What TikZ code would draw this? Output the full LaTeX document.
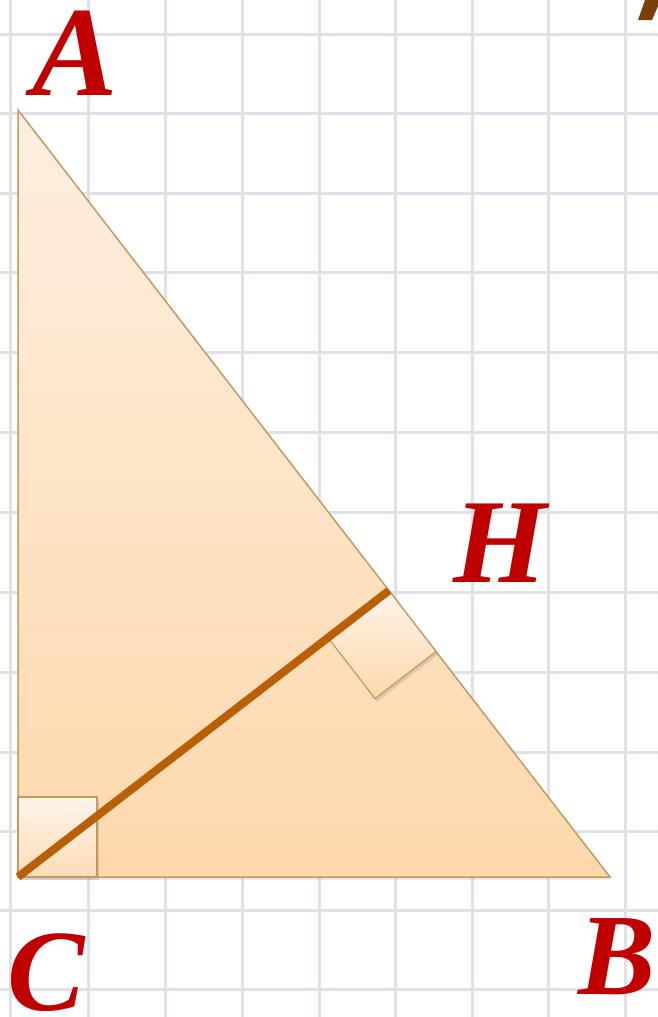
\documentclass[tikz,border=0pt]{standalone}
\usepackage{fontspec}
\setmainfont{Liberation Serif}
\usepackage{tikz}
\usetikzlibrary{calc,shadows}

\definecolor{gridline}{HTML}{E0E0EA}
\definecolor{tribord}{HTML}{C39A5E}
\definecolor{trilight}{HTML}{FEEFE1}
\definecolor{tridark}{HTML}{FDD8AB}
\definecolor{altcol}{HTML}{B95F08}
\definecolor{lettercol}{HTML}{C00000}
\definecolor{fragcol}{HTML}{7A400C}

\tikzset{
  vertex/.style={text=lettercol,inner sep=0pt,font=\bfseries\itshape},
  rightmark/.style={draw=tribord,line width=1.2pt,drop shadow={shadow xshift=2pt,shadow yshift=-3pt,opacity=0.25}}
}

\begin{document}
\begin{tikzpicture}[x=1pt,y=-1pt]
\useasboundingbox (0,0) rectangle (658,1017);
\fill[white] (0,0) rectangle (658,1017) ;

\foreach \gx in {10,88,165,242,319,395,472,548,625}
  \draw[gridline,line width=3pt] (\gx,0) -- (\gx,1017) ;
\foreach \gy in {34,113,193,272,352,432,512,592,672,752,831,910,989}
  \draw[gridline,line width=3pt] (0,\gy) -- (658,\gy) ;

\fill[fragcol] (638,20) -- (645,0) -- (658,0) -- (658,6) -- (652,20) -- cycle ;

\coordinate (A) at (18,110) ;
\coordinate (B) at (610,877) ;
\coordinate (C) at (18,877) ;
\coordinate (H) at ($(A)!(C)!(B)$) ;

\shade[top color=trilight,bottom color=tridark,drop shadow={shadow xshift=1pt,shadow yshift=-3pt,opacity=0.15}] (A) -- (B) -- (C) -- cycle ;
\draw[tribord,line width=1.5pt] (A) -- (B) -- (C) -- cycle ;

\coordinate (Cx) at (97,877) ;
\coordinate (Cy) at (18,797) ;
\shade[rightmark,top color=trilight!70!white,bottom color=tridark!80!trilight] (C) -- (Cx) -- (97,797) -- (Cy) -- cycle ;

\coordinate (Hc) at ($(H)!77pt!(C)$) ;
\coordinate (Hb) at ($(H)!77pt!(B)$) ;
\coordinate (Hd) at ($(Hc)+(Hb)-(H)$) ;
\shade[rightmark,shading angle=-45,top color=trilight!70!white,bottom color=tridark] (H) -- (Hc) -- (Hd) -- (Hb) -- cycle ;

\draw[altcol,line width=8pt] (C) -- (H) ;

\node[vertex,font=\fontsize{128}{128}\bfseries\itshape\selectfont] (labA) at (75,53) {A} ;
\node[vertex,font=\fontsize{120}{120}\bfseries\itshape\selectfont] (labH) at (500,543) {H} ;
\node[vertex,font=\fontsize{116}{116}\bfseries\itshape\selectfont] (labC) at (46,973) {C} ;
\node[vertex,font=\fontsize{116}{116}\bfseries\itshape\selectfont] (labB) at (617,957) {B} ;
\end{tikzpicture}
\end{document}
